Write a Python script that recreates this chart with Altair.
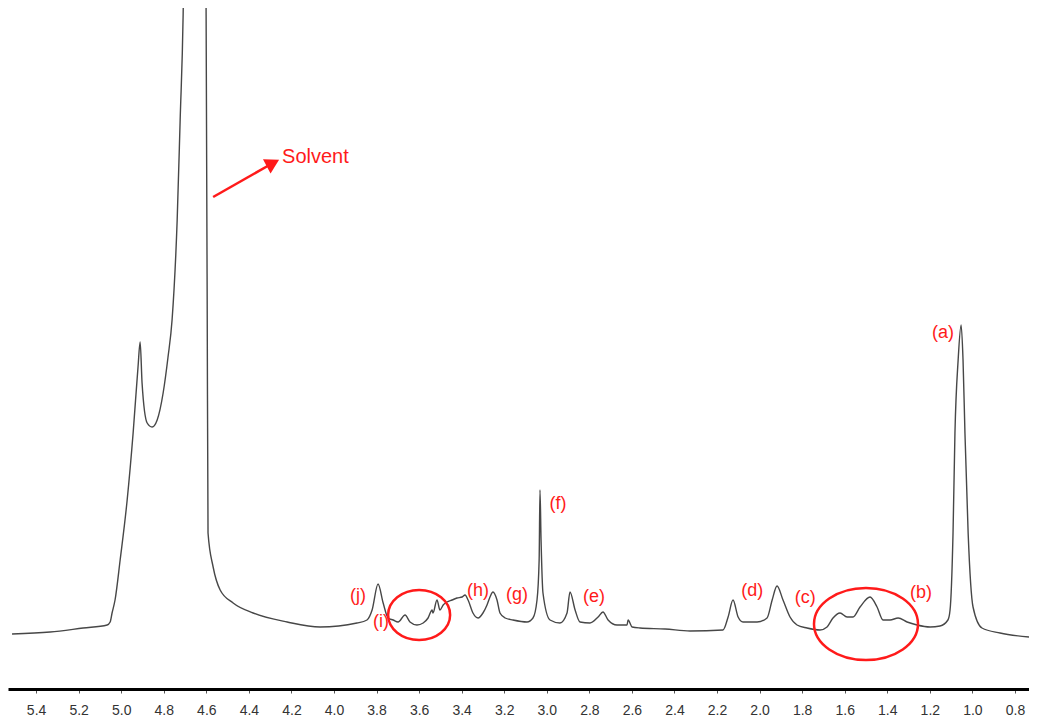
import altair as alt
import pandas as pd

# ---- spectrum (chemical shift in ppm, intensity in arbitrary units)
ppm = [5.513, 5.334, 5.179, 5.066, 5.052, 5.043, 5.029, 5.005, 4.972, 4.944,
       4.921, 4.911, 4.902, 4.878, 4.855, 4.831, 4.803, 4.780, 4.761, 4.737,
       4.723, 4.709, 4.650, 4.601, 4.596, 4.592, 4.568, 4.535, 4.474, 4.380,
       4.220, 4.065, 3.892, 3.845, 3.821, 3.793, 3.769, 3.746, 3.722, 3.699,
       3.666, 3.643, 3.610, 3.581, 3.558, 3.539, 3.535, 3.516, 3.502, 3.487,
       3.469, 3.445, 3.422, 3.398, 3.384, 3.370, 3.347, 3.323, 3.300, 3.281,
       3.267, 3.253, 3.234, 3.220, 3.196, 3.159, 3.093, 3.065, 3.046, 3.036,
       3.032, 3.027, 3.018, 2.985, 2.938, 2.905, 2.891, 2.867, 2.844, 2.797,
       2.759, 2.736, 2.712, 2.670, 2.623, 2.618, 2.599, 2.562, 2.444, 2.327,
       2.172, 2.148, 2.125, 2.101, 2.078, 2.012, 1.965, 1.941, 1.918, 1.890,
       1.857, 1.824, 1.777, 1.716, 1.683, 1.655, 1.622, 1.589, 1.561, 1.528,
       1.481, 1.448, 1.420, 1.387, 1.349, 1.307, 1.260, 1.199, 1.152, 1.115,
       1.105, 1.091, 1.082, 1.067, 1.053, 1.044, 1.035, 1.020, 0.997, 0.955,
       0.870, 0.734]
intensity = [59, 61, 65, 68, 71, 80, 93, 133, 193, 260,
             326, 351, 310, 270, 266, 273, 300, 336, 373, 473,
             573, 678, 2600, 678, 393, 160, 126, 103, 90, 80,
             71, 66, 70, 73, 83, 109, 90, 75, 73, 71,
             78, 71, 68, 70, 75, 83, 80, 93, 83, 88,
             91, 93, 95, 96, 98, 93, 80, 75, 80, 88,
             96, 101, 93, 80, 75, 73, 71, 75, 93, 133,
             203, 153, 100, 73, 70, 80, 101, 83, 71, 70,
             76, 81, 73, 68, 68, 73, 66, 65, 64, 62,
             63, 76, 93, 76, 71, 71, 75, 93, 107, 93,
             76, 68, 65, 63, 66, 75, 80, 76, 76, 86,
             96, 86, 73, 73, 75, 71, 68, 66, 67, 73,
             83, 160, 260, 333, 368, 333, 260, 160, 86, 65,
             60, 56]

# ---- axis ticks
tick_values = [5.4, 5.2, 5.0, 4.8, 4.6, 4.4, 4.2, 4.0, 3.8, 3.6, 3.4, 3.2,
               3.0, 2.8, 2.6, 2.4, 2.2, 2.0, 1.8, 1.6, 1.4, 1.2, 1.0, 0.8]

# ---- peak labels
peak_labels = ["(a)", "(b)", "(c)", "(d)", "(e)", "(f)", "(g)", "(h)", "(i)", "(j)"]
label_ppm = [1.138, 1.241, 1.786, 2.035, 2.778, 2.947, 3.140, 3.323, 3.779, 3.887]
label_int = [360, 100, 95, 102, 96, 189, 98, 102, 71, 97]

# ---- solvent annotation
solvent_text = ["Solvent"]
solvent_ppm = [4.244]
solvent_int = [536]
arrow_from_ppm = [4.568]
arrow_from_int = [496]
arrow_to_ppm = [4.287]
arrow_to_int = [530]

# ---- highlighted regions (ellipse centres)
ring1_ppm = [3.600]
ring1_int = [78]
ring2_ppm = [1.500]
ring2_int = [69]

RED = "#ff1a1a"
FONT = "Liberation Sans"

spec = pd.DataFrame({"ppm": ppm, "intensity": intensity})
labels = pd.DataFrame({"label": peak_labels, "ppm": label_ppm, "intensity": label_int})
solvent = pd.DataFrame({"label": solvent_text, "ppm": solvent_ppm, "intensity": solvent_int})
arrow = pd.DataFrame({"x1": arrow_from_ppm, "y1": arrow_from_int,
                      "x2": arrow_to_ppm, "y2": arrow_to_int})
ring1 = pd.DataFrame({"ppm": ring1_ppm, "intensity": ring1_int})
ring2 = pd.DataFrame({"ppm": ring2_ppm, "intensity": ring2_int})

xscale = alt.Scale(domain=[0.734, 5.532], reverse=True, nice=False, zero=False)
yscale = alt.Scale(domain=[4, 685], nice=False, zero=False)

x_axis = alt.Axis(values=tick_values, format=".1f", title=None, grid=False,
                  domainColor="black", domainWidth=3, tickColor="#555555",
                  tickSize=4, tickWidth=1, labelFont=FONT, labelFontSize=14,
                  labelColor="#333333", labelPadding=10, labelFlush=False)

line = alt.Chart(spec).mark_line(color="#474747", strokeWidth=1.4, clip=True,
                                 interpolate="monotone").encode(
    x=alt.X("ppm:Q", scale=xscale, axis=x_axis),
    y=alt.Y("intensity:Q", scale=yscale, axis=None),
)

text = alt.Chart(labels).mark_text(color=RED, font=FONT, fontSize=18,
                                   align="center", baseline="middle").encode(
    x=alt.X("ppm:Q", scale=xscale),
    y=alt.Y("intensity:Q", scale=yscale),
    text="label:N",
)

solv = alt.Chart(solvent).mark_text(color=RED, font=FONT, fontSize=20,
                                    align="left", baseline="middle").encode(
    x=alt.X("ppm:Q", scale=xscale),
    y=alt.Y("intensity:Q", scale=yscale),
    text="label:N",
)

arrow_line = alt.Chart(arrow).mark_rule(color=RED, strokeWidth=2.5).encode(
    x=alt.X("x1:Q", scale=xscale),
    y=alt.Y("y1:Q", scale=yscale),
    x2="x2:Q",
    y2="y2:Q",
)

arrow_head = alt.Chart(arrow).mark_point(shape="triangle-up", filled=True, color=RED,
                                         opacity=1, size=260, angle=62).encode(
    x=alt.X("x2:Q", scale=xscale),
    y=alt.Y("y2:Q", scale=yscale),
)

ell1_path = ("M1,0 C1,0.445 0.552,0.806 0,0.806 C-0.552,0.806 -1,0.445 -1,0 "
             "C-1,-0.445 -0.552,-0.806 0,-0.806 C0.552,-0.806 1,-0.445 1,0 Z")
ell2_path = ("M1,0 C1,0.382 0.552,0.692 0,0.692 C-0.552,0.692 -1,0.382 -1,0 "
             "C-1,-0.382 -0.552,-0.692 0,-0.692 C0.552,-0.692 1,-0.382 1,0 Z")

e1 = alt.Chart(ring1).mark_point(shape=ell1_path, filled=False, color=RED, opacity=1,
                                 strokeWidth=2.5, size=3844).encode(
    x=alt.X("ppm:Q", scale=xscale),
    y=alt.Y("intensity:Q", scale=yscale),
)
e2 = alt.Chart(ring2).mark_point(shape=ell2_path, filled=False, color=RED, opacity=1,
                                 strokeWidth=2.5, size=10816).encode(
    x=alt.X("ppm:Q", scale=xscale),
    y=alt.Y("intensity:Q", scale=yscale),
)

chart = alt.layer(line, e1, e2, text, solv, arrow_line, arrow_head).properties(
    width=1021, height=681,
    padding={"left": 0, "right": 0, "top": 0, "bottom": 0},
    background="white",
).configure_view(stroke=None)

chart.save("out.html", embed_options={"renderer": "svg", "actions": False})
